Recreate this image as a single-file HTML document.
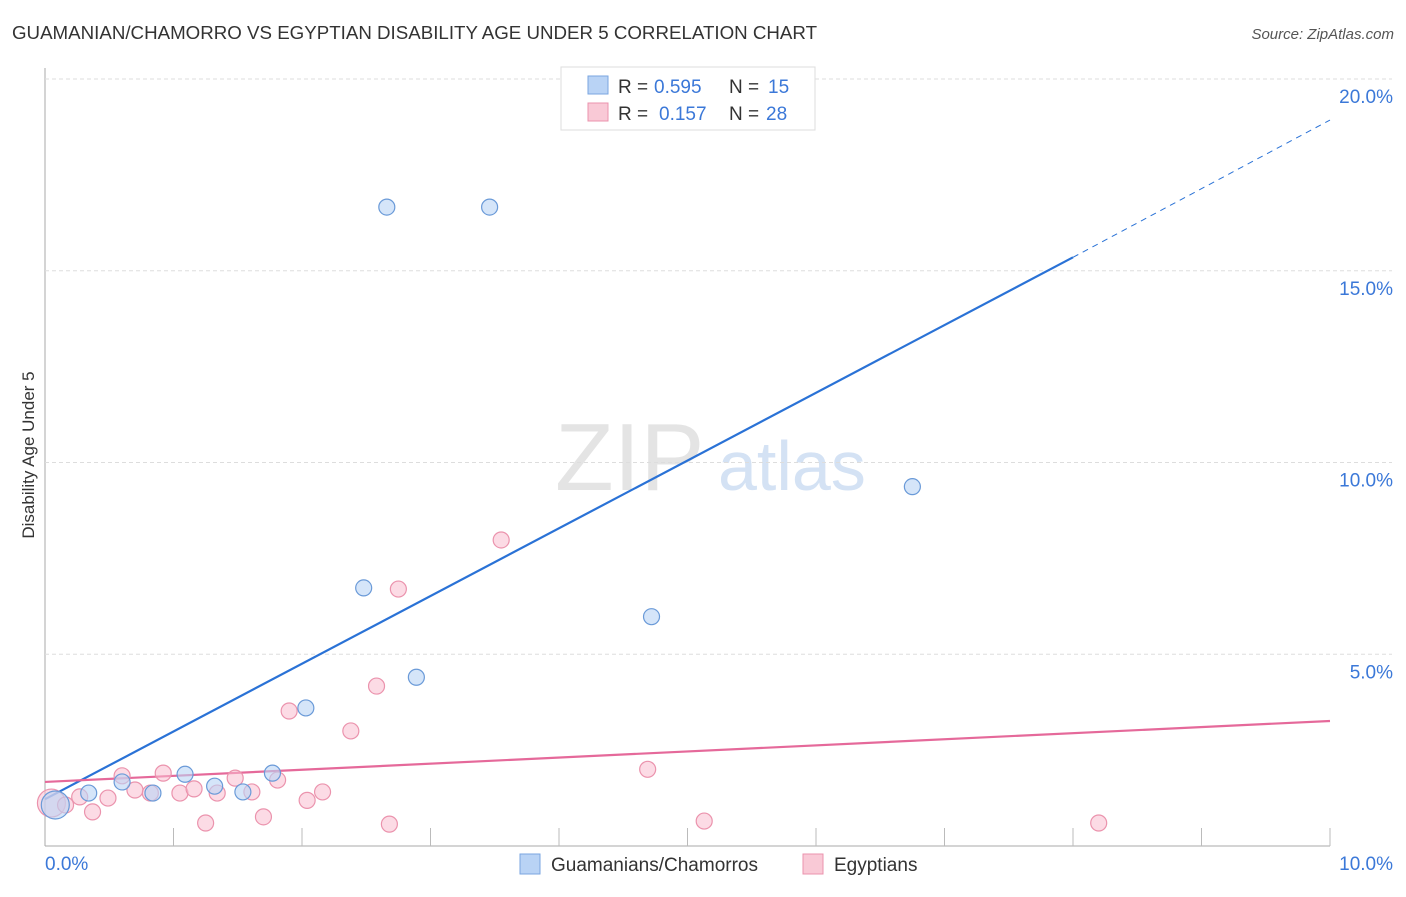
<!DOCTYPE html>
<html><head><meta charset="utf-8"><style>
body{margin:0;background:#fff;font-family:"Liberation Sans",sans-serif;}
svg text{font-family:"Liberation Sans",sans-serif;}
</style></head><body>
<svg id="chart" width="1406" height="892">
<text x="12" y="39" font-size="18" fill="#333" textLength="805" lengthAdjust="spacingAndGlyphs">GUAMANIAN/CHAMORRO VS EGYPTIAN DISABILITY AGE UNDER 5 CORRELATION CHART</text>
<text x="1394" y="39" font-size="15" fill="#555" text-anchor="end" font-style="italic">Source: ZipAtlas.com</text>
<text x="34" y="455" font-size="17" fill="#333" text-anchor="middle" transform="rotate(-90 34 455)">Disability Age Under 5</text>
<g><text x="555" y="490" font-size="96" fill="#e4e4e4" font-family="Liberation Serif">ZIP</text><text x="718" y="490" font-size="70" fill="#d4e2f4">atlas</text></g>
<g id="grid"></g><g id="lines"></g><g id="pts"></g>
<g>
<rect x="561" y="67" width="254" height="63" fill="#fff" stroke="#ddd"/>
<rect x="588" y="76" width="20" height="18" fill="#b9d3f5" stroke="#7aa6e0"/>
<rect x="588" y="103" width="20" height="18" fill="#f9c9d6" stroke="#eb93ad"/>
<text y="93" font-size="19" fill="#333"><tspan x="618">R =</tspan><tspan x="654" fill="#3b78d8">0.595</tspan><tspan x="729">N =</tspan><tspan x="768" fill="#3b78d8">15</tspan></text>
<text y="120" font-size="19" fill="#333"><tspan x="618">R =</tspan><tspan x="659" fill="#3b78d8">0.157</tspan><tspan x="729">N =</tspan><tspan x="766" fill="#3b78d8">28</tspan></text>
</g>
<g>
<rect x="520" y="854" width="20" height="20" fill="#b9d3f5" stroke="#7aa6e0"/>
<text x="551" y="871" font-size="19" fill="#333">Guamanians/Chamorros</text>
<rect x="803" y="854" width="20" height="20" fill="#f9c9d6" stroke="#eb93ad"/>
<text x="834" y="871" font-size="19" fill="#333">Egyptians</text>
</g>
</svg>
<script>
const yTicks=[5,10,15,20];
const xTickLabels=["0.0%","10.0%"];
const blueX=[0.08,0.34,0.6,0.84,1.09,1.32,1.54,1.77,2.03,2.48,2.66,2.89,3.46,4.72,6.75];
const blueY=[1.07,1.38,1.67,1.38,1.87,1.56,1.41,1.9,3.6,6.73,16.66,4.4,16.66,5.98,9.37];
const pinkX=[0.05,0.16,0.27,0.37,0.49,0.6,0.7,0.82,0.92,1.05,1.16,1.25,1.34,1.48,1.61,1.7,1.81,1.9,2.04,2.16,2.38,2.58,2.68,2.75,3.55,4.69,5.13,8.2];
const pinkY=[1.12,1.07,1.28,0.89,1.25,1.83,1.46,1.38,1.9,1.38,1.49,0.6,1.38,1.77,1.41,0.76,1.72,3.52,1.19,1.41,3.0,4.17,0.57,6.7,7.98,2.0,0.65,0.6];
const blueLine=[[0,1.22],[8.0,15.35],[10,18.93]];
const pinkLine=[[0,1.67],[10,3.26]];
const X=v=>45+v*128.5, Y=v=>846-v*38.35;
const NS="http://www.w3.org/2000/svg";
function mk(tag,attrs,parent){const e=document.createElementNS(NS,tag);for(const k in attrs)e.setAttribute(k,attrs[k]);document.getElementById(parent).appendChild(e);return e;}
let e=mk('line',{x1:45,y1:68,x2:45,y2:846,stroke:'#aaa'},'grid');


e=mk('line',{x1:45,y1:846,x2:1330,y2:846,stroke:'#aaa'},'grid');


for(let i=1;i<=10;i++){e=mk('line',{x1:X(i),y1:828,x2:X(i),y2:846,stroke:'#bbb'},'grid');

}
yTicks.forEach(t=>{e=mk('line',{x1:45,y1:Y(t),x2:1392,y2:Y(t),stroke:'#ddd','stroke-dasharray':'4 3'},'grid');


e=mk('text',{x:1393,y:Y(t)+24,'font-size':19,fill:'#3b78d8','text-anchor':'end'},'grid');e.textContent=t.toFixed(1)+'%';

});
xTickLabels.forEach((l,i)=>{e=mk('text',{x:i?1393:45,y:870,'font-size':19,fill:'#3b78d8','text-anchor':i?'end':'start'},'grid');e.textContent=l;

});
e=mk('line',{x1:X(blueLine[0][0]),y1:Y(blueLine[0][1]),x2:X(blueLine[1][0]),y2:Y(blueLine[1][1]),stroke:'#2a72d6','stroke-width':2.2},'lines');


e=mk('line',{x1:X(blueLine[1][0]),y1:Y(blueLine[1][1]),x2:X(blueLine[2][0]),y2:Y(blueLine[2][1]),stroke:'#2a72d6','stroke-width':1,'stroke-dasharray':'6 5'},'lines');


e=mk('line',{x1:X(pinkLine[0][0]),y1:Y(pinkLine[0][1]),x2:X(pinkLine[1][0]),y2:Y(pinkLine[1][1]),stroke:'#e5699a','stroke-width':2.2},'lines');


pinkX.forEach((v,i)=>{e=mk('circle',{cx:X(v),cy:Y(pinkY[i]),r:i==0?14:8,fill:'rgba(249,190,208,0.55)',stroke:'#eb93ad','stroke-width':1.2},'pts');

});
blueX.forEach((v,i)=>{e=mk('circle',{cx:X(v),cy:Y(blueY[i]),r:i==0?14:8,fill:'rgba(185,211,245,0.6)',stroke:'#6a9ad8','stroke-width':1.2},'pts');

});
</script>
</body></html>
